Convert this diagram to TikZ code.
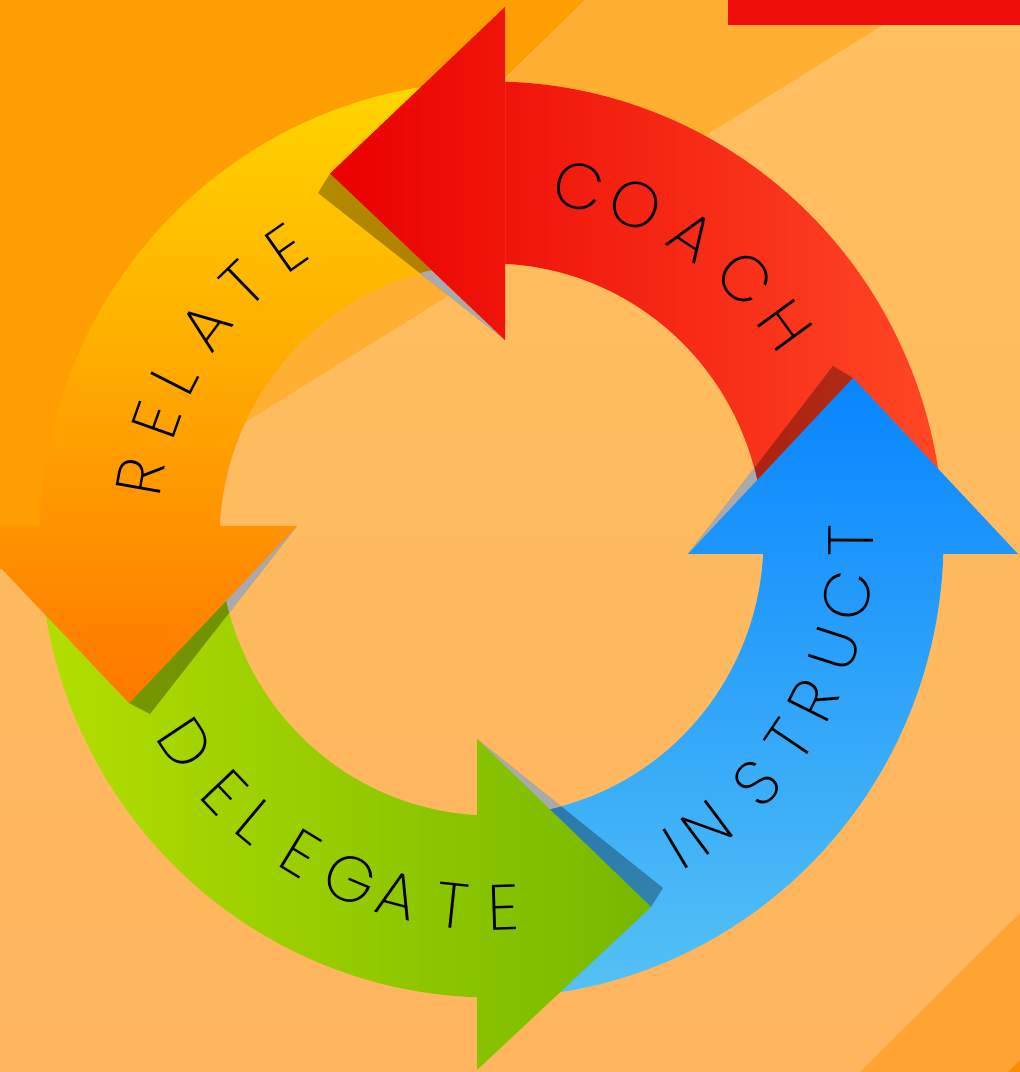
\documentclass[tikz,border=0pt]{standalone}
\usepackage{fontspec}
\usetikzlibrary{calc}
\IfFontExistsTF{Poppins ExtraLight}{\newfontfamily\lblfont{Poppins ExtraLight}}{%
  \IfFontExistsTF{Poppins Light}{\newfontfamily\lblfont{Poppins Light}}{%
    \newfontfamily\lblfont{Poppins}}}
\definecolor{bgTop}{RGB}{255,192,96}
\definecolor{bgBot}{RGB}{255,181,94}
\definecolor{bgDark}{RGB}{255,158,0}
\definecolor{bgMid}{RGB}{255,176,50}
\definecolor{bgBR}{RGB}{255,164,50}
\definecolor{bgCorner}{RGB}{255,140,0}
\definecolor{topRed}{RGB}{240,14,10}
\definecolor{redL}{RGB}{234,0,0}
\definecolor{redR}{RGB}{255,72,36}
\definecolor{blueT}{RGB}{8,133,255}
\definecolor{blueB}{RGB}{85,194,245}
\definecolor{greenL}{RGB}{180,222,0}
\definecolor{greenR}{RGB}{118,184,0}
\definecolor{ylwT}{RGB}{255,214,0}
\definecolor{ylwB}{RGB}{255,120,0}
\definecolor{shadowgray}{RGB}{170,170,172}
\begin{document}
\begin{tikzpicture}[x=1pt,y=1pt,
  ltr/.style={font={\lblfont\fontsize{64pt}{64pt}\selectfont}, inner sep=0pt, text=black, anchor=center},
  shadowdark/.style={fill=black, opacity=0.3},
  shadowlight/.style={fill=shadowgray}]
\useasboundingbox (0,0) rectangle (1020,1072);
\clip (0,0) rectangle (1020,1072);
\coordinate (ctr) at (491.5,532.5);
% ---------- background ----------
\shade[top color=bgTop, bottom color=bgBot] (0,0) rectangle (1020,1072);
\fill[bgDark] (0,1072) -- (585,1072) -- (0,502) -- cycle;
\fill[bgMid] (585,1072) -- (923,1072) -- (21,510) -- cycle;
\fill[bgBR] (1020,159) -- (1020,0) -- (860,0) -- cycle;
\fill[bgCorner] (1008,0) -- (1020,0) -- (1020,12) -- cycle;
\fill[topRed] (728,1047) rectangle (1020,1072);
% ---------- bodies ----------
% COACH body (red)
\begin{scope}
  \clip (505,518) rectangle (1040,1090);
  \clip[shift={(491.5,532.5)}] (-5:452pt and 458pt) arc[start angle=-5,end angle=95,x radius=452pt,y radius=458pt]
     -- (95:272pt and 276pt) arc[start angle=95,end angle=-5,x radius=272pt,y radius=276pt] -- cycle;
  \shade[left color=redL, right color=redR] (330,0) rectangle (945,1072);
\end{scope}
% INSTRUCT body (blue)
\begin{scope}
  \clip (477,-20) rectangle (1040,518);
  \clip[shift={(491.5,532.5)}] (-95:452pt and 458pt) arc[start angle=-95,end angle=5,x radius=452pt,y radius=458pt]
     -- (5:272pt and 276pt) arc[start angle=5,end angle=-95,x radius=272pt,y radius=276pt] -- cycle;
  \shade[top color=blueT, bottom color=blueB] (0,75) rectangle (1020,694);
\end{scope}
% DELEGATE body (green)
\begin{scope}
  \clip (-60,-20) rectangle (477,546);
  \clip[shift={(491.5,532.5)}] (175:452pt and 458pt) arc[start angle=175,end angle=275,x radius=452pt,y radius=458pt]
     -- (275:272pt and 276pt) arc[start angle=275,end angle=175,x radius=272pt,y radius=276pt] -- cycle;
  \shade[left color=greenL, right color=greenR] (40,0) rectangle (651,1072);
\end{scope}
% RELATE body (yellow-orange)
\begin{scope}
  \clip (-60,546) rectangle (505,1090);
  \clip[shift={(491.5,532.5)}] (85:452pt and 458pt) arc[start angle=85,end angle=185,x radius=452pt,y radius=458pt]
     -- (185:272pt and 276pt) arc[start angle=185,end angle=85,x radius=272pt,y radius=276pt] -- cycle;
  \shade[top color=ylwT, bottom color=ylwB] (0,369) rectangle (1020,991);
\end{scope}
% ---------- shadows of the heads ----------
\begin{scope}
  \clip (ctr) ellipse [x radius=452pt, y radius=458pt];
  \fill[shadowdark] (505,732) -- (318,879) -- (330,898.5) -- cycle;
  \fill[shadowdark] (688,518) -- (833,706) -- (853,694) -- cycle;
  \fill[shadowdark] (477,333) -- (663,184) -- (651,165) -- cycle;
  \fill[shadowdark] (297,546) -- (150,358) -- (129,369) -- cycle;
\end{scope}
\begin{scope}
  \clip (ctr) ellipse [x radius=272pt, y radius=276pt];
  \fill[shadowlight] (505,732) -- (318,879) -- (330,898.5) -- cycle;
  \fill[shadowlight] (688,518) -- (833,706) -- (853,694) -- cycle;
  \fill[shadowlight] (477,333) -- (663,184) -- (651,165) -- cycle;
  \fill[shadowlight] (297,546) -- (150,358) -- (129,369) -- cycle;
\end{scope}
% ---------- heads ----------
\begin{scope}
  \clip (505,1065) -- (330,898.5) -- (505,732) -- cycle;
  \shade[left color=redL, right color=redR] (330,0) rectangle (945,1072);
\end{scope}
\begin{scope}
  \clip (688,518) -- (853,694) -- (1018,518) -- cycle;
  \shade[top color=blueT, bottom color=blueB] (0,75) rectangle (1020,694);
\end{scope}
\begin{scope}
  \clip (477,333) -- (651,165) -- (477,2) -- cycle;
  \shade[left color=greenL, right color=greenR] (40,0) rectangle (651,1072);
\end{scope}
\begin{scope}
  \clip (-39,546) -- (129,369) -- (297,546) -- cycle;
  \shade[top color=ylwT, bottom color=ylwB] (0,369) rectangle (1020,991);
\end{scope}
% ---------- labels ----------
\foreach \ch/\a [count=\i] in {C/76.1, O/66.7, A/56.5, C/45.8, H/36.1}{
  \pgfmathsetmacro\rr{\a-90}
  \node[ltr, rotate=\rr] (coach\i) at ($(ctr)+(\a:364pt)$) {\ch};
}
\foreach \ch/\a [count=\i] in {R/169.9, E/160.4, L/153.0, A/143.3, T/134.2, E/125.1}{
  \pgfmathsetmacro\rr{\a-90}
  \node[ltr, rotate=\rr] (relate\i) at ($(ctr)+(\a:356pt)$) {\ch};
}
\foreach \ch/\a [count=\i] in {I/-59.2, N/-53.2, S/-42.6, T/-34.0, R/-26.5, U/-17.8, C/-9.0, T/-0.2}{
  \pgfmathsetmacro\rr{\a+90}
  \node[ltr, rotate=\rr] (instruct\i) at ($(ctr)+(\a:360pt)$) {\ch};
}
\foreach \ch/\a [count=\i] in {D/213.7, E/223.5, L/230.1, E/238.7, G/247.4, A/255.2, T/264.0, E/271.8}{
  \pgfmathsetmacro\rr{\a+90}
  \node[ltr, rotate=\rr] (delegate\i) at ($(ctr)+(\a:368pt)$) {\ch};
}
\end{tikzpicture}
\end{document}
